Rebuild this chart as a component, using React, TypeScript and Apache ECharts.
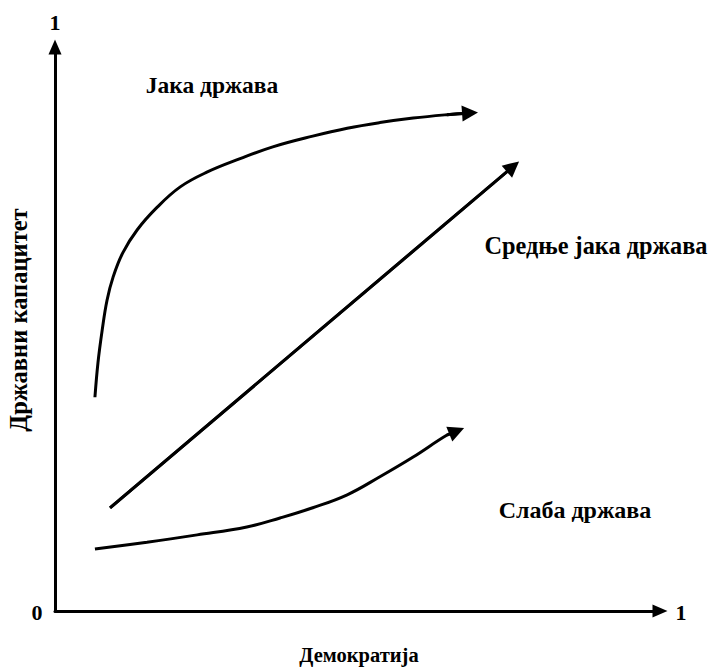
import React, { useEffect, useRef } from "react";
import * as echarts from "echarts";

// Curves, in axis units (0..1)
const strongX = [0.066, 0.071, 0.078, 0.086, 0.096, 0.112, 0.136, 0.169, 0.207, 0.251, 0.306, 0.36, 0.426, 0.483, 0.537, 0.592, 0.648, 0.686];
const strongY = [0.379, 0.44, 0.498, 0.551, 0.592, 0.635, 0.676, 0.716, 0.752, 0.778, 0.802, 0.823, 0.842, 0.856, 0.866, 0.874, 0.88, 0.883];
const midX = [0.091, 0.757];
const midY = [0.183, 0.788];
const weakX = [0.066, 0.152, 0.235, 0.317, 0.372, 0.426, 0.483, 0.537, 0.592, 0.648, 0.664];
const weakY = [0.11, 0.122, 0.135, 0.149, 0.165, 0.183, 0.206, 0.238, 0.273, 0.312, 0.319];

const xTitle = "Демократија";
const yTitle = "Државни капацитет";
const regionLabels = ["Јака држава", "Средње јака држава", "Слаба држава"];
const tickLabels = ["0", "1", "1"];

const FAMILY = "serif";

function pairs(xs: number[], ys: number[]) {
  return xs.map((x, i) => [x, ys[i]]);
}

export default function App() {
  const ref = useRef<HTMLDivElement>(null);
  useEffect(() => {
    if (!ref.current) return;
    const chart = echarts.init(ref.current, null, { renderer: "svg" });
    const body = (xs: number[], ys: number[]) => ({
      type: "line",
      smooth: 0.4,
      showSymbol: false,
      symbol: "none",
      silent: true,
      lineStyle: { color: "#000", width: 3 },
      data: pairs(xs, ys),
    });
    const head = (xs: number[], ys: number[]) => {
      const n = xs.length;
      return {
        type: "lines",
        coordinateSystem: "cartesian2d",
        symbol: ["none", "triangle"],
        symbolSize: [14, 16],
        silent: true,
        z: 3,
        lineStyle: { color: "#000", width: 3, opacity: 1 },
        itemStyle: { color: "#000" },
        data: [{ coords: [[xs[n - 2], ys[n - 2]], [xs[n - 1], ys[n - 1]]] }],
      };
    };
    const axisLine = {
      show: true,
      onZero: false,
      lineStyle: { color: "#000", width: 3 },
      symbol: ["none", "triangle"],
      symbolSize: [13, 15],
    };
    const txt = (text: string, x: number, y: number, size: number, extra: any = {}) => ({
      type: "text",
      x,
      y,
      ...extra,
      style: {
        text,
        fontFamily: FAMILY,
        fontWeight: "bold",
        fontSize: size,
        fill: "#000",
        align: "center",
        verticalAlign: "middle",
      },
    });
    chart.setOption({
      animation: false,
      backgroundColor: "#fff",
      grid: { left: 55, top: 47, right: 48, bottom: 56 },
      xAxis: {
        type: "value",
        min: 0,
        max: 1,
        axisLine,
        axisTick: { show: false },
        axisLabel: { show: false },
        splitLine: { show: false },
      },
      yAxis: {
        type: "value",
        min: 0,
        max: 1,
        axisLine,
        axisTick: { show: false },
        axisLabel: { show: false },
        splitLine: { show: false },
      },
      series: [
        body(strongX, strongY),
        head(strongX, strongY),
        body(midX, midY),
        head(midX, midY),
        body(weakX, weakY),
        head(weakX, weakY),
      ],
      graphic: [
        txt(regionLabels[0], 212, 85, 23.5),
        txt(regionLabels[1], 596, 245, 24.3),
        txt(regionLabels[2], 575, 510, 24),
        txt(xTitle, 359, 655, 20.5),
        txt(yTitle, 18, 320, 24.5, { rotation: Math.PI / 2 }),
        txt(tickLabels[0], 37, 612, 22),
        txt(tickLabels[1], 55, 22, 22),
        txt(tickLabels[2], 681, 612, 22),
      ],
    });
    return () => chart.dispose();
  }, []);
  return <div ref={ref} style={{ width: 708, height: 667, position: "absolute", left: 0, top: 0 }} />;
}
